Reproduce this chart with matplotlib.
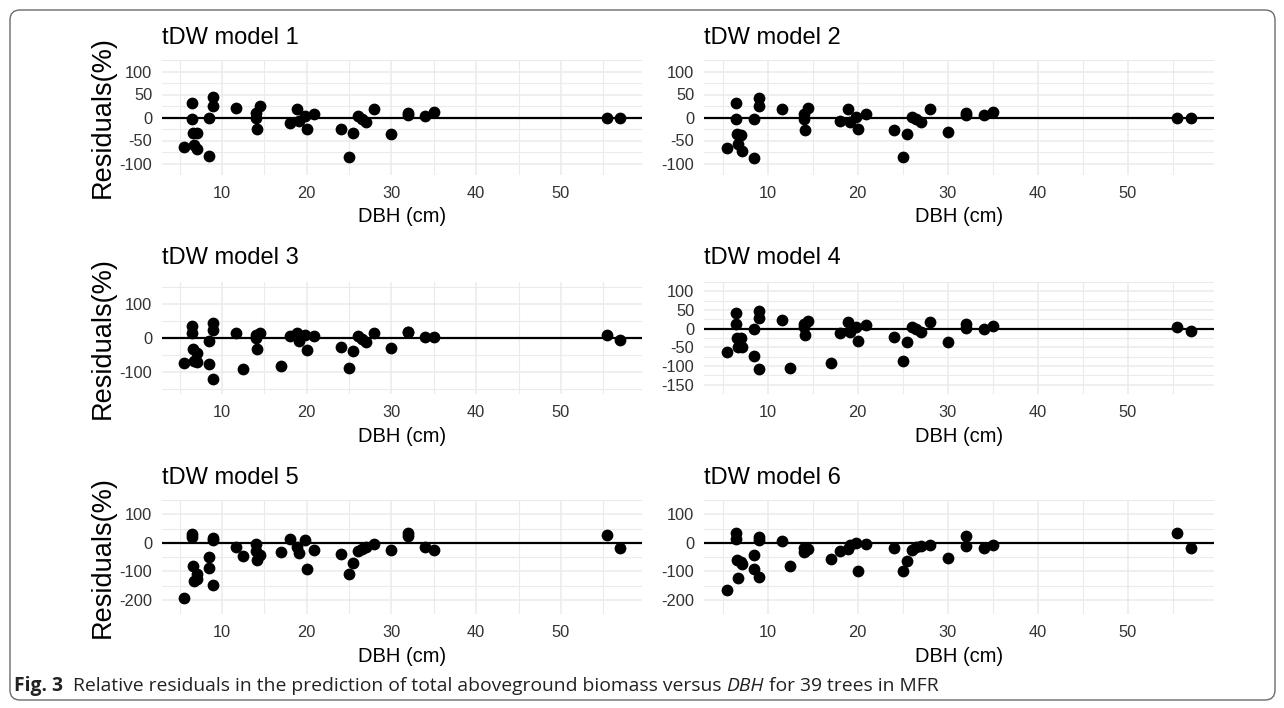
import numpy as np
import matplotlib
matplotlib.use("Agg")
import matplotlib.pyplot as plt
from matplotlib.patches import FancyBboxPatch
from matplotlib.transforms import IdentityTransform

plt.rcParams['font.family'] = ['Liberation Sans', 'DejaVu Sans']
plt.rcParams['axes.unicode_minus'] = False

# DBH (cm) of the 39 trees
dbh = np.array([5.5, 6.5, 6.5, 6.6, 6.7, 7.0, 7.1, 8.5, 8.5, 9.0, 9.0, 9.0,
                11.6, 12.5, 14.0, 14.0, 14.1, 14.5, 17.0, 18.0, 18.9, 19.1,
                19.8, 20.0, 20.9, 24.0, 25.0, 25.5, 26.0, 26.5, 27.0, 28.0,
                30.0, 32.0, 32.0, 34.0, 35.0, 55.5, 57.0])

# relative residuals (%) for each model
res_m1 = [-65, 32, -4, -33, -60, -33, -69, -1, -84, 45, 26, -112, 20, -115, 10, -2,
          -26, 24, -120, -11, 18, -8, 3, -26, 8, -24, -85, -34, 3, -3, -10, 18,
          -36, 10, 5, 4, 12, 0, 0]
res_m2 = [-67, 32, -3, -35, -58, -37, -73, -3, -89, 43, 26, -115, 18, -118, 8, -3,
          -27, 21, -125, -8, 18, -9, 2, -24, 8, -27, -86, -36, 2, -3, -9, 18,
          -32, 10, 6, 5, 12, -1, -1]
res_m3 = [-73, 36, 14, -33, -68, -45, -70, -10, -78, 44, 24, -121, 15, -92, 10, 0,
          -31, 15, -83, 5, 15, -10, 10, -34, 5, -27, -89, -39, 5, -3, -12, 15,
          -29, 19, 17, 2, 2, 8, -7]
res_m4 = [-62, 42, 12, -25, -50, -25, -50, 0, -72, 46, 29, -108, 23, -106, 12, 4,
          -17, 21, -92, -12, 17, -8, 4, -32, 10, -21, -86, -37, 4, -2, -8, 17,
          -37, 12, 2, 0, 8, 5, -7]
res_m5 = [-193, 32, 20, -82, -134, -108, -128, -50, -89, 17, 8, -147, -16, -45, -5, -30,
          -60, -43, -31, 14, -16, -36, 8, -92, -24, -38, -108, -70, -28, -22, -15, -6,
          -24, 34, 24, -14, -26, 27, -17]
res_m6 = [-165, 35, 14, -60, -122, -68, -75, -42, -92, 20, 10, -120, 5, -80, -18, -34,
          -28, -22, -56, -30, -22, -8, 0, -98, -5, -17, -98, -63, -24, -15, -12, -8,
          -53, 22, -10, -19, -8, 33, -17]

titles = ["tDW model 1", "tDW model 2", "tDW model 3",
          "tDW model 4", "tDW model 5", "tDW model 6"]
x_ticks = [10, 20, 30, 40, 50]

# y scale per panel: limits, major breaks
y_limits = [(-100, 100), (-100, 100), (-150, 150), (-150, 100), (-200, 100), (-200, 100)]
y_breaks = [[-100, -50, 0, 50, 100], [-100, -50, 0, 50, 100], [-100, 0, 100],
            [-150, -100, -50, 0, 50, 100], [-200, -100, 0, 100], [-200, -100, 0, 100]]

W, H = 1284, 708
fig = plt.figure(figsize=(W / 100, H / 100), dpi=100)


def px_rect(l, r, t, b):
    return [l / W, 1 - b / H, (r - l) / W, (b - t) / H]


cols = [(162, 642), (704, 1214)]
rows = [(60, 175), (282, 394), (500, 614)]
title_y = [38, 258, 478]

GRID = '#ebebeb'
TXT = '#333333'


def draw_panel(ax, y, title, lims, breaks, ylabel, ty, height):
    y = np.asarray(y, dtype=float)
    lo, hi = lims
    keep = (y >= lo) & (y <= hi)   # points outside the scale limits are dropped
    span = hi - lo
    ax.set_ylim(lo - 0.05 * span, hi + 0.05 * span)
    xr = dbh.max() - dbh.min()
    ax.set_xlim(dbh.min() - 0.05 * xr, dbh.max() + 0.05 * xr)

    ax.set_xticks(x_ticks)
    ax.set_xticks([5, 15, 25, 35, 45, 55], minor=True)
    ax.set_yticks(breaks)
    step = breaks[1] - breaks[0]
    minor = np.arange(breaks[0] - step / 2, breaks[-1] + step, step)
    ax.set_yticks(minor, minor=True)
    ax.set_xticklabels([str(v) for v in x_ticks])
    ax.set_yticklabels([str(v) for v in breaks])

    ax.grid(True, which='major', color=GRID, lw=1.1, zorder=0)
    ax.grid(True, which='minor', color=GRID, lw=0.8, zorder=0)
    ax.set_axisbelow(True)
    for s in ax.spines.values():
        s.set_visible(False)
    ax.tick_params(which='both', length=0, labelsize=11.8, labelcolor=TXT)
    ax.tick_params(axis='y', pad=7)
    ax.tick_params(axis='x', pad=8)

    ax.axhline(0, color='black', lw=1.6, zorder=2)
    ax.scatter(dbh[keep], y[keep], s=72, color='black', linewidths=0, zorder=3)

    bb = ax.get_position()
    fig.text(bb.x0, 1 - ty / H, title, fontsize=17, va='center', ha='left')

    ax.set_xlabel('DBH (cm)', fontsize=14.5, color='black', va='center')
    ax.xaxis.set_label_coords(0.5, -42 / height)
    if ylabel:
        ax.set_ylabel('Residuals(%)', fontsize=19.5, color='black', va='center')
        ax.yaxis.set_label_coords((103 - 162) / 480, 0.5)


series = [res_m1, res_m2, res_m3, res_m4, res_m5, res_m6]
for i in range(6):
    r, c = divmod(i, 2)
    ax = fig.add_axes(px_rect(cols[c][0], cols[c][1], rows[r][0], rows[r][1]))
    draw_panel(ax, series[i], titles[i], y_limits[i], y_breaks[i], c == 0,
               title_y[r], rows[r][1] - rows[r][0])

# outer frame
frame = FancyBboxPatch((10, H - 700), 1265, 690,
                       boxstyle='round,pad=0,rounding_size=10',
                       transform=IdentityTransform(), fill=False,
                       edgecolor='#6b6b6b', lw=1.0)
fig.add_artist(frame)

# caption with mixed styles
renderer = fig.canvas.get_renderer()
parts = [("Fig. 3", 'bold', 'normal'),
         ("  Relative residuals in the prediction of total aboveground biomass versus ", 'normal', 'normal'),
         ("DBH", 'normal', 'italic'),
         (" for 39 trees in MFR", 'normal', 'normal')]
xpos = 14 / W
for txt, wt, st in parts:
    t = fig.text(xpos, 1 - 686 / H, txt, fontsize=13.9, fontweight=wt, fontstyle=st,
                 family=['Open Sans', 'DejaVu Sans'], va='center', ha='left', color='#222222')
    bb = t.get_window_extent(renderer)
    xpos = bb.x1 / W

fig.savefig('out.png', dpi=100, facecolor='white')
